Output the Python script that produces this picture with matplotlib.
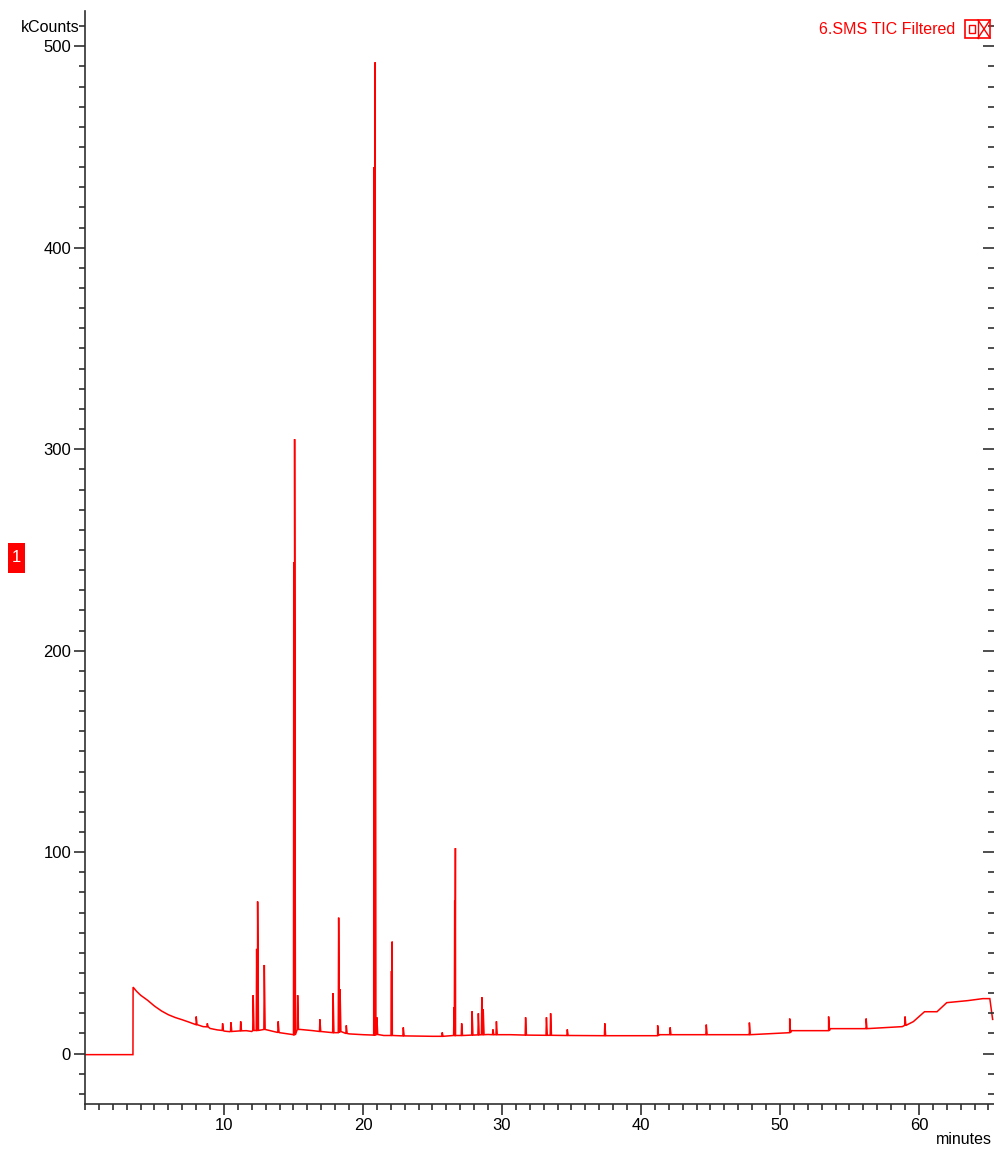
import numpy as np
import matplotlib
matplotlib.use('Agg')
import matplotlib.pyplot as plt
from matplotlib.patches import Rectangle
from matplotlib.lines import Line2D
from matplotlib.ticker import MultipleLocator

plt.rcParams['font.family'] = ['Liberation Sans Narrow', 'Liberation Sans', 'DejaVu Sans']

# baseline of the TIC trace (minutes, kCounts)
base_t = [0, 3.45, 3.46, 3.7, 4.0, 4.5, 5.0, 5.5, 6.0, 6.5, 7.0, 7.5, 8.0, 8.5, 9.0, 9.5,
          10.0, 10.4, 11.6, 12.0, 14.0, 15.0,
          15.5, 16.4, 17.8, 19.0, 20.0, 21.5, 23.0, 25.0, 27.0, 29.0, 30.6, 35.0, 37.0,
          41.2, 41.3, 47.7, 47.8, 50.7, 50.8, 53.5, 53.6, 56.1, 56.2, 58.8, 59.6, 60.4,
          61.3, 62.0, 63.5, 64.6, 65.1, 65.3]
base_v = [-0.5, -0.5, 33, 31, 29, 26.5, 23.6, 21.2, 19.3, 17.9, 16.8, 15.6, 14.4, 13.4, 12.5, 11.8,
          11.2, 10.9, 11.4, 11.0, 10.4, 9.4,
          12.0, 11.4, 10.4, 9.8, 9.4, 9.0, 8.8, 8.6, 9.0, 9.5, 9.4, 9.0, 8.9,
          8.9, 9.4, 9.4, 10.4, 10.4, 11.4, 11.4, 12.4, 12.4, 13.4, 13.4, 15.9, 20.8,
          20.8, 25.3, 26.3, 27.3, 27.3, 17.0]

# peaks: retention time, base level, apex level
peak_t = [8.0, 8.8, 9.9, 10.5, 11.2, 12.1, 12.35, 12.42, 12.9, 13.9, 15.02, 15.08, 15.3,
          16.9, 17.85, 18.25, 18.35, 18.8, 20.8, 20.87, 21.0, 22.05, 22.1, 22.9, 25.7,
          26.55, 26.6, 26.65, 27.1, 27.85, 28.3, 28.55, 28.65, 29.35, 29.6, 31.7, 33.2,
          33.5, 34.7, 37.4, 41.2, 42.1, 44.7, 47.8, 50.7, 53.5, 56.2, 59.0]
peak_base = [14.4, 13.3, 11.5, 11.0, 11.3, 11.5, 11.5, 11.5, 12.0, 10.5, 9.4, 9.4, 12.0,
             11.0, 10.4, 10.4, 11.0, 10.0, 9.2, 9.2, 9.5, 9.0, 9.0, 8.8, 8.6,
             9.0, 9.0, 9.0, 9.0, 9.2, 9.3, 9.4, 9.4, 9.4, 9.4, 9.2, 9.1,
             9.1, 9.0, 8.9, 8.9, 9.4, 9.4, 9.4, 10.4, 11.4, 12.4, 14.0]
peak_top = [18.4, 15, 15, 15.5, 16, 29, 52, 75.5, 44, 16, 244, 305, 29,
            17, 30, 67.5, 32, 14, 440, 492, 18, 41, 55.6, 13, 10.5,
            23, 76, 102, 15, 21, 20, 28, 22, 12, 16, 18, 18,
            20, 12, 15, 14, 13, 14.4, 15.4, 17.4, 18.4, 17.4, 18.4]

y_ticks = [0, 100, 200, 300, 400, 500]
x_ticks = [10, 20, 30, 40, 50, 60]

# build the polyline
pts = list(zip(base_t, base_v))
for t, b, h in zip(peak_t, peak_base, peak_top):
    pts += [(t - 0.03, b), (t, h), (t + 0.06, b)]
pts.sort(key=lambda p: p[0])
xs = [p[0] for p in pts]
ys = [p[1] for p in pts]

W, H = 995, 1149
fig = plt.figure(figsize=(W / 100, H / 100), dpi=100)
ax = fig.add_axes([85 / W, 45 / H, (994 - 85) / W, (1104 - 11) / H])

ax.plot(xs, ys, color='#ff0000', lw=1.1, solid_joinstyle='miter')
ax.set_xlim(0, 65.4)
ax.set_ylim(-25, 517.5)

for s in ['top', 'right']:
    ax.spines[s].set_visible(False)
for s in ['left', 'bottom']:
    ax.spines[s].set_color('#303030')
    ax.spines[s].set_linewidth(1.2)

ax.set_xticks(x_ticks)
ax.set_yticks(y_ticks)
ax.xaxis.set_minor_locator(MultipleLocator(1))
ax.yaxis.set_minor_locator(MultipleLocator(10))
ax.tick_params(which='major', direction='out', length=8, width=1.2, color='#303030',
               labelsize=12, pad=2)
ax.tick_params(which='minor', direction='out', length=4, width=1.2, color='#303030')

ax2 = ax.twinx()
ax2.set_ylim(ax.get_ylim())
for s in ax2.spines.values():
    s.set_visible(False)
ax2.set_yticks(y_ticks)
ax2.set_yticklabels([])
ax2.yaxis.set_minor_locator(MultipleLocator(10))
ax2.tick_params(which='major', direction='in', length=8, width=1.2, color='#303030')
ax2.tick_params(which='minor', direction='in', length=4, width=1.2, color='#303030')

fig.text(80 / W, 1 - 28 / H, 'kCounts', ha='right', va='center', fontsize=11.5)
fig.text(992 / W, 1 - 1140 / H, 'minutes', ha='right', va='center', fontsize=11.5)
fig.text(955 / W, 1 - 29 / H, '6.SMS TIC Filtered', ha='right', va='center',
         fontsize=11.5, color='#ff0000')

# trace icon box
fig.add_artist(Rectangle((965 / W, 1 - 38 / H), 25 / W, 18 / H, transform=fig.transFigure,
                         fill=False, ec='#ff0000', lw=1.2))
fig.add_artist(Rectangle((969 / W, 1 - 33 / H), 6 / W, 8 / H, transform=fig.transFigure,
                         fill=False, ec='#ff0000', lw=1.0))
fig.add_artist(Line2D([978 / W, 978 / W], [1 - 38 / H, 1 - 20 / H], transform=fig.transFigure,
                      color='#ff0000', lw=1.0))
fig.add_artist(Line2D([978 / W, 990 / W], [1 - 20 / H, 1 - 38 / H], transform=fig.transFigure,
                      color='#ff0000', lw=1.0))
fig.add_artist(Line2D([978 / W, 990 / W], [1 - 38 / H, 1 - 20 / H], transform=fig.transFigure,
                      color='#ff0000', lw=1.0))

# red marker on the left
fig.add_artist(Rectangle((8 / W, 1 - 573 / H), 17 / W, 30 / H, transform=fig.transFigure,
                         fc='#ff0000', ec='none'))
fig.text(16.5 / W, 1 - 558 / H, '1', ha='center', va='center', fontsize=12, color='white')

fig.savefig('out.png', dpi=100)
